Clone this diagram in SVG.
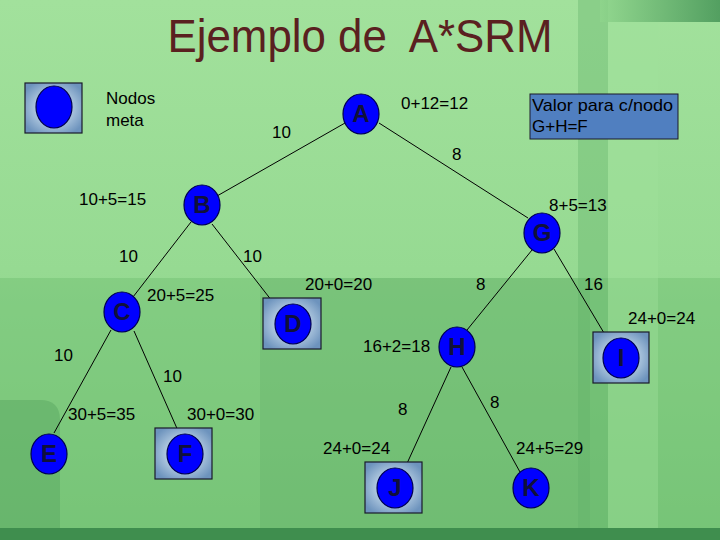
<svg xmlns="http://www.w3.org/2000/svg" width="720" height="540" viewBox="0 0 720 540">
<defs>
<radialGradient id="sq" cx="50%" cy="50%" r="60%">
<stop offset="0" stop-color="#e4eef6"/>
<stop offset="0.55" stop-color="#a9c3dc"/>
<stop offset="1" stop-color="#6d93bd"/>
</radialGradient>
<linearGradient id="bg" x1="0" y1="0" x2="0" y2="1">
<stop offset="0" stop-color="#a2e19c"/>
<stop offset="0.5" stop-color="#96da92"/>
<stop offset="1" stop-color="#7dc97c"/>
</linearGradient>
<linearGradient id="tr" x1="0" y1="0" x2="1" y2="0">
<stop offset="0" stop-color="#8fd58c"/>
<stop offset="1" stop-color="#3f8f52"/>
</linearGradient>
</defs>
<style>
.edge{stroke:#000;stroke-width:1;fill:none}
.nd{fill:#0000ff;stroke:#000050;stroke-width:1.2}
.sq{fill:url(#sq);stroke:#1a1a2a;stroke-width:1.2}
.lt{font-family:"Liberation Sans",Arial,sans-serif;font-weight:bold;font-size:24px;fill:#10103a;text-anchor:middle}
.lb{font-family:"Liberation Sans",Arial,sans-serif;font-size:17px;fill:#000}
</style>
<!-- background -->
<rect width="720" height="540" fill="url(#bg)"/>
<rect x="0" y="278" width="720" height="262" fill="#6fbf70" opacity="0.45"/>
<rect x="260" y="278" width="330" height="252" fill="#5aa862" opacity="0.25"/>
<rect x="578" y="0" width="30" height="540" fill="#5fae66" opacity="0.35"/>
<rect x="608" y="0" width="50" height="540" fill="#9fe29a" opacity="0.4"/>
<rect x="600" y="0" width="120" height="22" fill="url(#tr)" opacity="0.8"/>
<path d="M0,400 H40 Q60,400 60,420 V540 H0 Z" fill="#5aa862" opacity="0.5"/>
<rect x="0" y="528" width="720" height="12" fill="#3f8e4e"/>
<text x="360" y="52" font-family="'Liberation Sans',Arial,sans-serif" font-size="46" fill="#5a2020" text-anchor="middle" textLength="385" lengthAdjust="spacingAndGlyphs" xml:space="preserve">Ejemplo de  A*SRM</text>
<!-- legend -->
<g id="legend">
<rect class="sq" x="25" y="83" width="57" height="50"/>
<ellipse class="nd" cx="54" cy="107" rx="18" ry="21"/>
<text class="lb" x="106" y="104">Nodos</text>
<text class="lb" x="106" y="126">meta</text>
</g>
<g id="info">
<rect x="530" y="94" width="148" height="45" fill="#507fc0" stroke="#1a1a2a" stroke-width="1"/>
<text class="lb" x="532" y="111" font-size="18" textLength="141" lengthAdjust="spacingAndGlyphs">Valor para c/nodo</text>
<text class="lb" x="532" y="132" font-size="18">G+H=F</text>
</g>
<!-- connectors -->
<g id="connectors">
<line class="edge" x1="345" y1="123" x2="217" y2="196"/>
<line class="edge" x1="379" y1="123" x2="528" y2="218"/>
<line class="edge" x1="191" y1="222" x2="133" y2="297"/>
<line class="edge" x1="212" y1="224" x2="279" y2="310"/>
<line class="edge" x1="532" y1="250" x2="467" y2="330"/>
<line class="edge" x1="554" y1="249" x2="604" y2="333"/>
<line class="edge" x1="111" y1="330" x2="54" y2="433"/>
<line class="edge" x1="134" y1="331" x2="179" y2="433"/>
<line class="edge" x1="451" y1="367" x2="404" y2="470"/>
<line class="edge" x1="462" y1="367" x2="520" y2="472"/>
<text class="lb" x="272" y="138">10</text>
<text class="lb" x="452" y="160">8</text>
<text class="lb" x="119" y="262">10</text>
<text class="lb" x="243" y="262">10</text>
<text class="lb" x="476" y="290">8</text>
<text class="lb" x="584" y="290">16</text>
<text class="lb" x="54" y="361">10</text>
<text class="lb" x="163" y="382">10</text>
<text class="lb" x="398" y="415">8</text>
<text class="lb" x="490" y="408">8</text>
</g>
<!-- nodes -->
<g id="A"><ellipse class="nd" cx="361" cy="114" rx="18" ry="20"/><text class="lt" x="361" y="122">A</text>
<text class="lb" x="401" y="109">0+12=12</text></g>
<g id="B"><ellipse class="nd" cx="202" cy="205" rx="18" ry="20"/><text class="lt" x="202" y="213">B</text>
<text class="lb" x="79" y="205">10+5=15</text></g>
<g id="G"><ellipse class="nd" cx="542" cy="233" rx="18" ry="20"/><text class="lt" x="542" y="241">G</text>
<text class="lb" x="549" y="211">8+5=13</text></g>
<g id="C"><ellipse class="nd" cx="122" cy="312" rx="18" ry="20"/><text class="lt" x="122" y="320">C</text>
<text class="lb" x="147" y="301">20+5=25</text></g>
<g id="D"><rect class="sq" x="263" y="298" width="58" height="51"/><ellipse class="nd" cx="293" cy="324" rx="18" ry="20"/><text class="lt" x="293" y="332">D</text>
<text class="lb" x="305" y="290">20+0=20</text></g>
<g id="H"><ellipse class="nd" cx="457" cy="347" rx="18" ry="20"/><text class="lt" x="457" y="355">H</text>
<text class="lb" x="363" y="352">16+2=18</text></g>
<g id="I"><rect class="sq" x="593" y="332" width="56" height="51"/><ellipse class="nd" cx="621" cy="358" rx="18" ry="20"/><text class="lt" x="621" y="366">I</text>
<text class="lb" x="628" y="324">24+0=24</text></g>
<g id="E"><ellipse class="nd" cx="49" cy="454" rx="18" ry="20"/><text class="lt" x="49" y="462">E</text>
<text class="lb" x="68" y="420">30+5=35</text></g>
<g id="F"><rect class="sq" x="155" y="428" width="57" height="51"/><ellipse class="nd" cx="185" cy="454" rx="18" ry="20"/><text class="lt" x="185" y="462">F</text>
<text class="lb" x="187" y="420">30+0=30</text></g>
<g id="J"><rect class="sq" x="365" y="462" width="57" height="51"/><ellipse class="nd" cx="395" cy="488" rx="18" ry="20"/><text class="lt" x="395" y="496">J</text>
<text class="lb" x="323" y="454">24+0=24</text></g>
<g id="K"><ellipse class="nd" cx="531" cy="488" rx="18" ry="20"/><text class="lt" x="531" y="496">K</text>
<text class="lb" x="516" y="454">24+5=29</text></g>
</svg>
